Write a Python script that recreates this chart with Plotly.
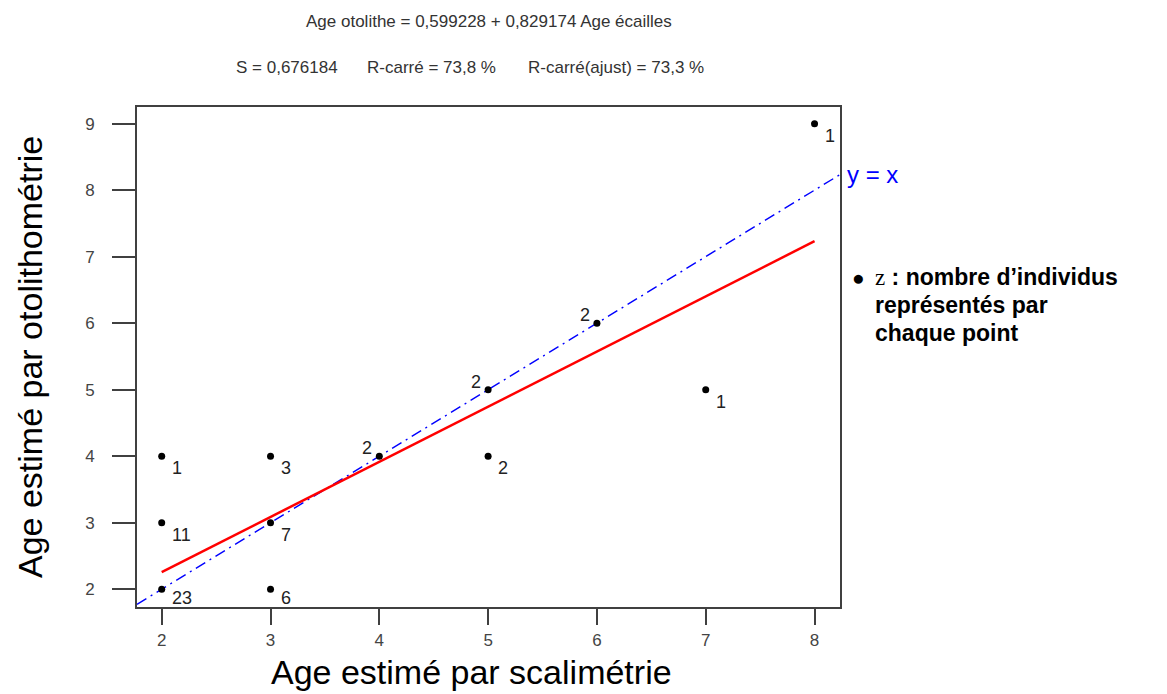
import plotly.graph_objects as go

# ---- data ----
age_scales = [2, 2, 2, 3, 3, 3, 4, 5, 5, 6, 7, 8]
age_otolith = [2, 3, 4, 2, 3, 4, 4, 4, 5, 6, 5, 9]
counts = [23, 11, 1, 6, 7, 3, 2, 2, 2, 2, 1, 1]
intercept = 0.599228
slope = 0.829174
x_ticks = [2, 3, 4, 5, 6, 7, 8]
y_ticks = [2, 3, 4, 5, 6, 7, 8, 9]
title_line1 = "Age otolithe = 0,599228 + 0,829174 Age écailles"
title_parts2 = ["S = 0,676184", "R-carré = 73,8 %", "R-carré(ajust) = 73,3 %"]
x_title = "Age estimé par scalimétrie"
y_title = "Age estimé par otolithométrie"
note_lines = ["<span style=\"font-family:'Liberation Serif';font-weight:normal\">z</span> : nombre d’individus",
              "représentés par", "chaque point"]

# ---- layout geometry ----
W, H = 1167, 694
L, R, T, B = 137, 840, 107, 607
XR = [1.773, 8.234]
YR = [1.733, 9.25]

def px(xp):
    return (xp - L) / (R - L)

def py(yp):
    return (B - yp) / (B - T)

FONT = "Liberation Sans, Arial, sans-serif"

fig = go.Figure()

# y = x reference line
fig.add_trace(go.Scatter(x=XR, y=XR, mode="lines",
                         line=dict(color="#0000FF", width=1.4, dash="11px,5px,2px,5px"),
                         hoverinfo="skip", showlegend=False))
# regression line
xr = [min(age_scales), max(age_scales)]
fig.add_trace(go.Scatter(x=xr, y=[intercept + slope * v for v in xr], mode="lines",
                         line=dict(color="#FF0000", width=2.5),
                         hoverinfo="skip", showlegend=False))
# points
fig.add_trace(go.Scatter(x=age_scales, y=age_otolith, mode="markers",
                         marker=dict(color="black", size=7, symbol="circle"),
                         showlegend=False, cliponaxis=False))

# point labels
upper_left = {(4, 4), (5, 5), (6, 6)}
for xv, yv, n in zip(age_scales, age_otolith, counts):
    if (xv, yv) in upper_left:
        fig.add_annotation(x=xv, y=yv, text=str(n), showarrow=False, xanchor="right",
                           yanchor="middle", xshift=-5, yshift=8,
                           font=dict(family=FONT, size=18, color="#222"))
    else:
        ys = -9 if yv == 2 else -12
        fig.add_annotation(x=xv, y=yv, text=str(n), showarrow=False, xanchor="left",
                           yanchor="middle", xshift=8, yshift=ys,
                           font=dict(family=FONT, size=18, color="#222"))

# titles
fig.add_annotation(x=px(489), y=py(21), xref="paper", yref="paper", text=title_line1,
                   showarrow=False, xanchor="center", yanchor="middle",
                   font=dict(family=FONT, size=17, color="#333"))
for left, t in zip([234, 365, 526], title_parts2):
    fig.add_annotation(x=px(left), y=py(68), xref="paper", yref="paper", text=t,
                       showarrow=False, xanchor="left", yanchor="middle",
                       font=dict(family=FONT, size=17, color="#333"))

# axis titles
fig.add_annotation(x=px(471), y=py(672), xref="paper", yref="paper", text=x_title,
                   showarrow=False, xanchor="center", yanchor="middle",
                   font=dict(family=FONT, size=34, color="black"))
fig.add_annotation(x=px(30), y=py(357), xref="paper", yref="paper", text=y_title,
                   showarrow=False, xanchor="center", yanchor="middle", textangle=-90,
                   font=dict(family=FONT, size=34, color="black"))

# y = x label
fig.add_annotation(x=px(845), y=XR[1], xref="paper", yref="y", text="y = x",
                   showarrow=False, xanchor="left", yanchor="middle",
                   font=dict(family=FONT, size=24, color="#0000FF"))

# note
fig.add_annotation(x=px(850), y=py(277), xref="paper", yref="paper", text="●",
                   showarrow=False, xanchor="left", yanchor="middle",
                   font=dict(family=FONT, size=21, color="black"))
for yp, line in zip([277, 305, 333], note_lines):
    fig.add_annotation(x=px(873), y=py(yp), xref="paper", yref="paper", text=line,
                       showarrow=False, xanchor="left", yanchor="middle", align="left",
                       font=dict(family="Liberation Sans, Arial", size=23, color="black",
                                 weight="bold"))

axis_common = dict(showgrid=False, zeroline=False, showline=True, mirror=True,
                   linecolor="#404040", linewidth=2, ticks="outside", tickcolor="#404040",
                   tickwidth=1.5, tickfont=dict(family=FONT, size=17, color="#444"))
fig.update_xaxes(range=XR, tickvals=x_ticks, ticklen=16, ticklabelstandoff=1, **axis_common)
fig.update_yaxes(range=YR, tickvals=y_ticks, ticklen=23, ticklabelstandoff=14, **axis_common)

fig.update_layout(width=W, height=H, margin=dict(l=L, r=W - R, t=T, b=H - B),
                  plot_bgcolor="white", paper_bgcolor="white", showlegend=False)

fig.write_html("out.html")
